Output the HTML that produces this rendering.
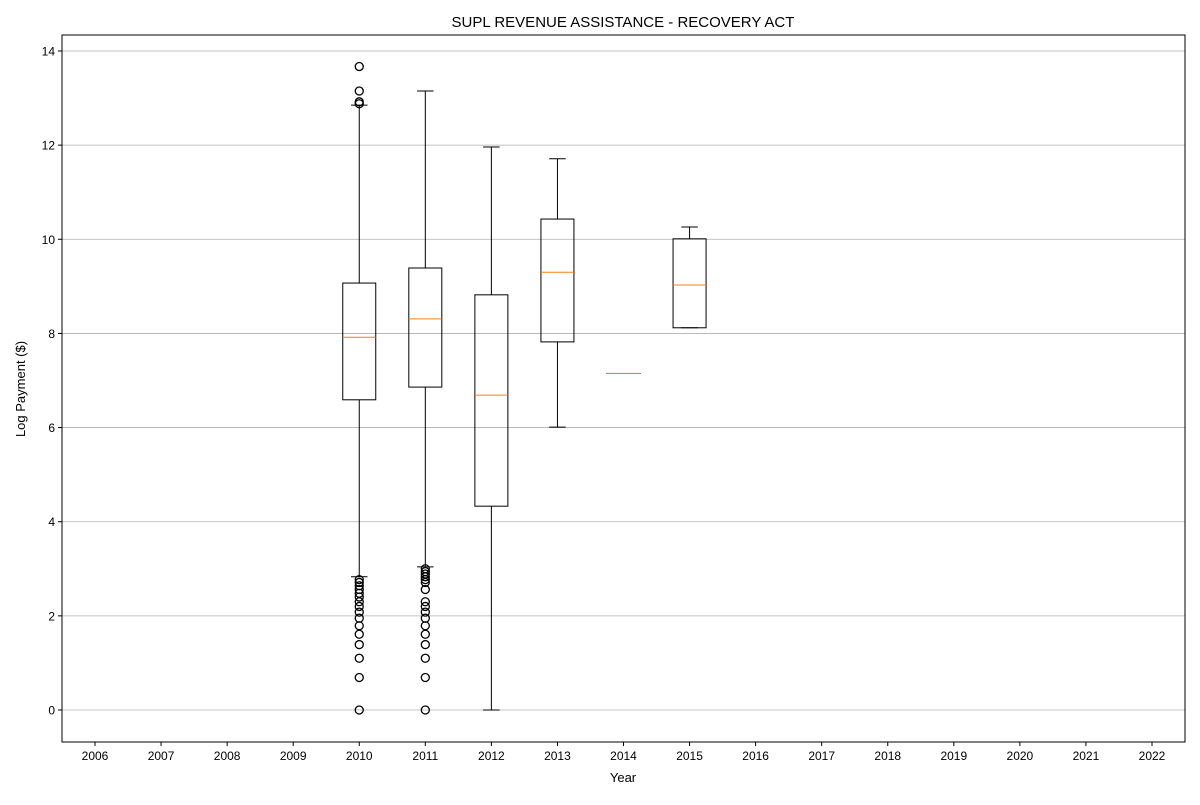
<!DOCTYPE html>
<html><head><meta charset="utf-8"><style>
body{margin:0;background:#fff;font-family:"Liberation Sans",sans-serif;}
svg text{font-family:"Liberation Sans",sans-serif;fill:#000;}
</style></head><body>
<svg id="chart" width="1200" height="800" xmlns="http://www.w3.org/2000/svg">
<text x="623" y="27" font-size="15" text-anchor="middle">SUPL REVENUE ASSISTANCE - RECOVERY ACT</text>
<text x="623" y="782" font-size="13" text-anchor="middle">Year</text>
<text x="25" y="389" font-size="13" text-anchor="middle" transform="rotate(-90 25 389)">Log Payment ($)</text>
<g id="grid"></g><g id="marks"></g><g id="axes"></g>
</svg>
<script>
const years=[2006,2007,2008,2009,2010,2011,2012,2013,2014,2015,2016,2017,2018,2019,2020,2021,2022];
const yTicks=[0,2,4,6,8,10,12,14];
const boxYears=[2010,2011,2012,2013,2014,2015];
const q1s=[6.59,6.86,4.33,7.82,7.15,8.12];
const medians=[7.92,8.31,6.69,9.30,7.15,9.03];
const q3s=[9.07,9.39,8.82,10.43,7.15,10.01];
const whiskLo=[2.83,3.04,0,6.01,7.15,8.12];
const whiskHi=[12.85,13.15,11.96,11.71,7.15,10.26];
const outliers2010=[0,0.69,1.10,1.39,1.61,1.79,1.95,2.08,2.20,2.30,2.40,2.48,2.56,2.64,2.71,2.77,12.88,12.92,13.15,13.67];
const outliers2011=[0,0.69,1.10,1.39,1.61,1.79,1.95,2.08,2.20,2.30,2.56,2.71,2.77,2.83,2.89,2.94,3.0];
const outlierYears=[2010,2011];
const outlierSets=[outliers2010,outliers2011];

const L=62,R=1185,T=35,B=742;
const xs=y=>95+(y-2006)*(1152-95)/16;
const ys=v=>710-v*(710-51)/14;
const NS="http://www.w3.org/2000/svg";
function mk(parent,tag,attrs){const e=document.createElementNS(NS,tag);for(const k in attrs)e.setAttribute(k,attrs[k]);parent.appendChild(e);return e;}
const grid=document.getElementById('grid'),marks=document.getElementById('marks'),axes=document.getElementById('axes');

yTicks.forEach(t=>{
  const g=mk(grid,'line',{x1:L,x2:R,y1:ys(t),y2:ys(t),stroke:'#b0b0b0','stroke-width':0.8});
  
  
  const tk=mk(axes,'line',{x1:L-4,x2:L,y1:ys(t),y2:ys(t),stroke:'#000'});
  
  
  const tx=mk(axes,'text',{x:L-7,y:ys(t)+4.5,'font-size':12,'text-anchor':'end'});
  tx.textContent=t;
  
  
});
years.forEach(yr=>{
  const tk=mk(axes,'line',{x1:xs(yr),x2:xs(yr),y1:B,y2:B+4,stroke:'#000'});
  
  
  const tx=mk(axes,'text',{x:xs(yr),y:B+18,'font-size':12,'text-anchor':'middle'});
  tx.textContent=yr;
  
  
});
const frame=mk(axes,'rect',{x:L,y:T,width:R-L,height:B-T,fill:'none',stroke:'#000','stroke-width':1});



const hw=16.5,cw=8.25;
boxYears.forEach((yr,i)=>{
  const cx=xs(yr);
  const g=mk(marks,'g',{});
  
  
  mk(g,'line',{x1:cx,x2:cx,y1:ys(q1s[i]),y2:ys(whiskLo[i]),stroke:'#000'});
  mk(g,'line',{x1:cx,x2:cx,y1:ys(q3s[i]),y2:ys(whiskHi[i]),stroke:'#000'});
  mk(g,'line',{x1:cx-cw,x2:cx+cw,y1:ys(whiskLo[i]),y2:ys(whiskLo[i]),stroke:'#000'});
  mk(g,'line',{x1:cx-cw,x2:cx+cw,y1:ys(whiskHi[i]),y2:ys(whiskHi[i]),stroke:'#000'});
  mk(g,'rect',{x:cx-hw,y:ys(q3s[i]),width:2*hw,height:Math.max(ys(q1s[i])-ys(q3s[i]),0.01),fill:'none',stroke:'#000'});
  mk(g,'line',{x1:cx-hw,x2:cx+hw,y1:ys(medians[i]),y2:ys(medians[i]),stroke:'#ff7f0e'});
});
outlierYears.forEach((yr,j)=>{
  outlierSets[j].forEach(v=>{
    const c=mk(marks,'circle',{cx:xs(yr),cy:ys(v),r:4,fill:'none',stroke:'#000','stroke-width':1.3});
    
    
  });
});
</script>
</body></html>
